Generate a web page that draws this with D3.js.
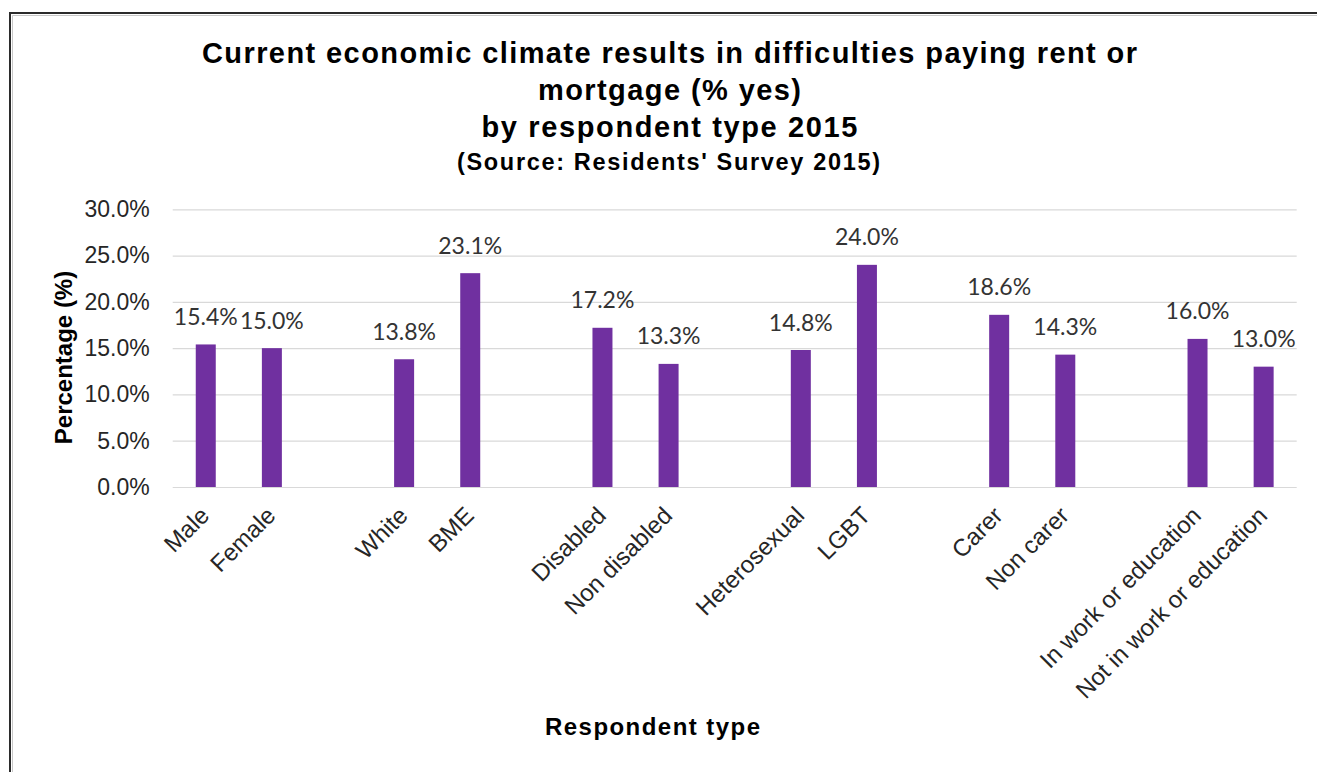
<!DOCTYPE html>
<html>
<head>
<meta charset="utf-8">
<script src="https://cdn.jsdelivr.net/npm/d3@7"></script>
<style>
  html, body { margin: 0; padding: 0; background: #fff; }
  svg { display: block; }
</style>
</head>
<body>
<svg id="chart" width="1317" height="772"></svg>
<script>
// Respondent groups, in pairs, with the share answering "yes" (%)
const categories = ["Male", "Female", "White", "BME", "Disabled", "Non disabled",
  "Heterosexual", "LGBT", "Carer", "Non carer", "In work or education", "Not in work or education"];
const values = [15.4, 15.0, 13.8, 23.1, 17.2, 13.3, 14.8, 24.0, 18.6, 14.3, 16.0, 13.0];
const yTicks = [0, 5, 10, 15, 20, 25, 30];
const titleLines = [
  "Current economic climate results in difficulties paying rent or",
  "mortgage (% yes)",
  "by respondent type 2015"
];
const sourceLine = "(Source: Residents' Survey 2015)";
const yAxisTitle = "Percentage (%)";
const xAxisTitle = "Respondent type";

const svg = d3.select("#chart");
const W = 1317, H = 772;
const plot = { left: 172.7, right: 1296.7, top: 209.3, bottom: 487 };
const barColor = "#7030A0";
const gridColor = "#d9d9d9";
const arial = "'Liberation Sans', Arial, sans-serif";

// Outer frame (left and top edges visible)
svg.append("path").attr("d", `M12.5,${H} V15.5 H${W}`)
  .attr("fill", "none").attr("stroke", "#c8c8c8").attr("stroke-width", 1);
svg.append("path").attr("d", `M10,${H} V13 H${W}`)
  .attr("fill", "none").attr("stroke", "#2b2b2b").attr("stroke-width", 2);

// Slots: each pair is followed by an empty slot that separates the groups
const slots = [];
categories.forEach((c, i) => {
  slots.push(c);
  if (i % 2 === 1 && i < categories.length - 1) slots.push("__gap" + i);
});

const x = d3.scaleBand().domain(slots).range([plot.left, plot.right]).padding(0);
const y = d3.scaleLinear().domain([0, 30]).range([plot.bottom, plot.top]);
const barW = 20;

// Gridlines
const grid = svg.append("g").attr("transform", `translate(${plot.left},0)`)
  .call(d3.axisLeft(y).tickValues(yTicks).tickSize(-(plot.right - plot.left)).tickFormat(""));
grid.select(".domain").remove();
grid.selectAll("line").attr("stroke", gridColor).attr("stroke-width", 1.2);

// Y tick labels
const yAxis = svg.append("g").attr("transform", `translate(${plot.left},0)`)
  .call(d3.axisLeft(y).tickValues(yTicks).tickSize(0).tickPadding(23)
    .tickFormat(d => d3.format(".1f")(d) + "%"));
yAxis.select(".domain").remove();
yAxis.attr("font-family", arial).attr("font-size", 23);
yAxis.selectAll("text").attr("fill", "#262626");

// Bars
svg.append("g").selectAll("rect")
  .data(categories.map((c, i) => ({ c, v: values[i] })))
  .join("rect")
  .attr("x", d => x(d.c) + x.bandwidth() / 2 - barW / 2)
  .attr("y", d => y(d.v))
  .attr("width", barW)
  .attr("height", d => y(0) - y(d.v))
  .attr("fill", barColor);

// Value labels
svg.append("g").selectAll("text")
  .data(categories.map((c, i) => ({ c, v: values[i] })))
  .join("text")
  .attr("x", d => x(d.c) + x.bandwidth() / 2)
  .attr("y", d => y(d.v) - 19.4)
  .attr("text-anchor", "middle")
  .attr("font-family", "Lato, 'Open Sans', sans-serif")
  .attr("font-size", 23)
  .attr("fill", "#333")
  .text(d => d3.format(".1f")(d.v) + "%");

// X tick labels, rotated
const xAxis = svg.append("g").attr("transform", `translate(0,${plot.bottom})`)
  .call(d3.axisBottom(x).tickValues(categories).tickSize(0).tickFormat(d => d));
xAxis.select(".domain").remove();
xAxis.attr("font-family", arial).attr("font-size", 24);
xAxis.selectAll("text")
  .attr("fill", "#262626")
  .attr("text-anchor", "end")
  .attr("dy", 0).attr("y", 0)
  .attr("transform", "translate(5,30) rotate(-45)");

// Title
const titleY = [63, 100, 137];
const titleW = [935, 263, 376];
titleLines.forEach((t, i) => {
  svg.append("text")
    .attr("x", 669.5).attr("y", titleY[i])
    .attr("text-anchor", "middle")
    .attr("font-family", arial).attr("font-weight", "bold")
    .attr("font-size", 29).attr("fill", "#000")
    .attr("textLength", titleW[i]).attr("lengthAdjust", "spacing")
    .text(t);
});
svg.append("text")
  .attr("x", 668.5).attr("y", 170)
  .attr("text-anchor", "middle")
  .attr("font-family", arial).attr("font-weight", "bold")
  .attr("font-size", 23.5).attr("fill", "#000")
  .attr("textLength", 423).attr("lengthAdjust", "spacing")
  .text(sourceLine);

// Axis titles
svg.append("text")
  .attr("transform", `translate(72,357.5) rotate(-90)`)
  .attr("text-anchor", "middle")
  .attr("font-family", arial).attr("font-weight", "bold")
  .attr("font-size", 24).attr("fill", "#000")
  .text(yAxisTitle);

svg.append("text")
  .attr("x", 652.5).attr("y", 735)
  .attr("text-anchor", "middle")
  .attr("font-family", arial).attr("font-weight", "bold")
  .attr("font-size", 24).attr("fill", "#000")
  .attr("textLength", 215).attr("lengthAdjust", "spacing")
  .text(xAxisTitle);
</script>
</body>
</html>
